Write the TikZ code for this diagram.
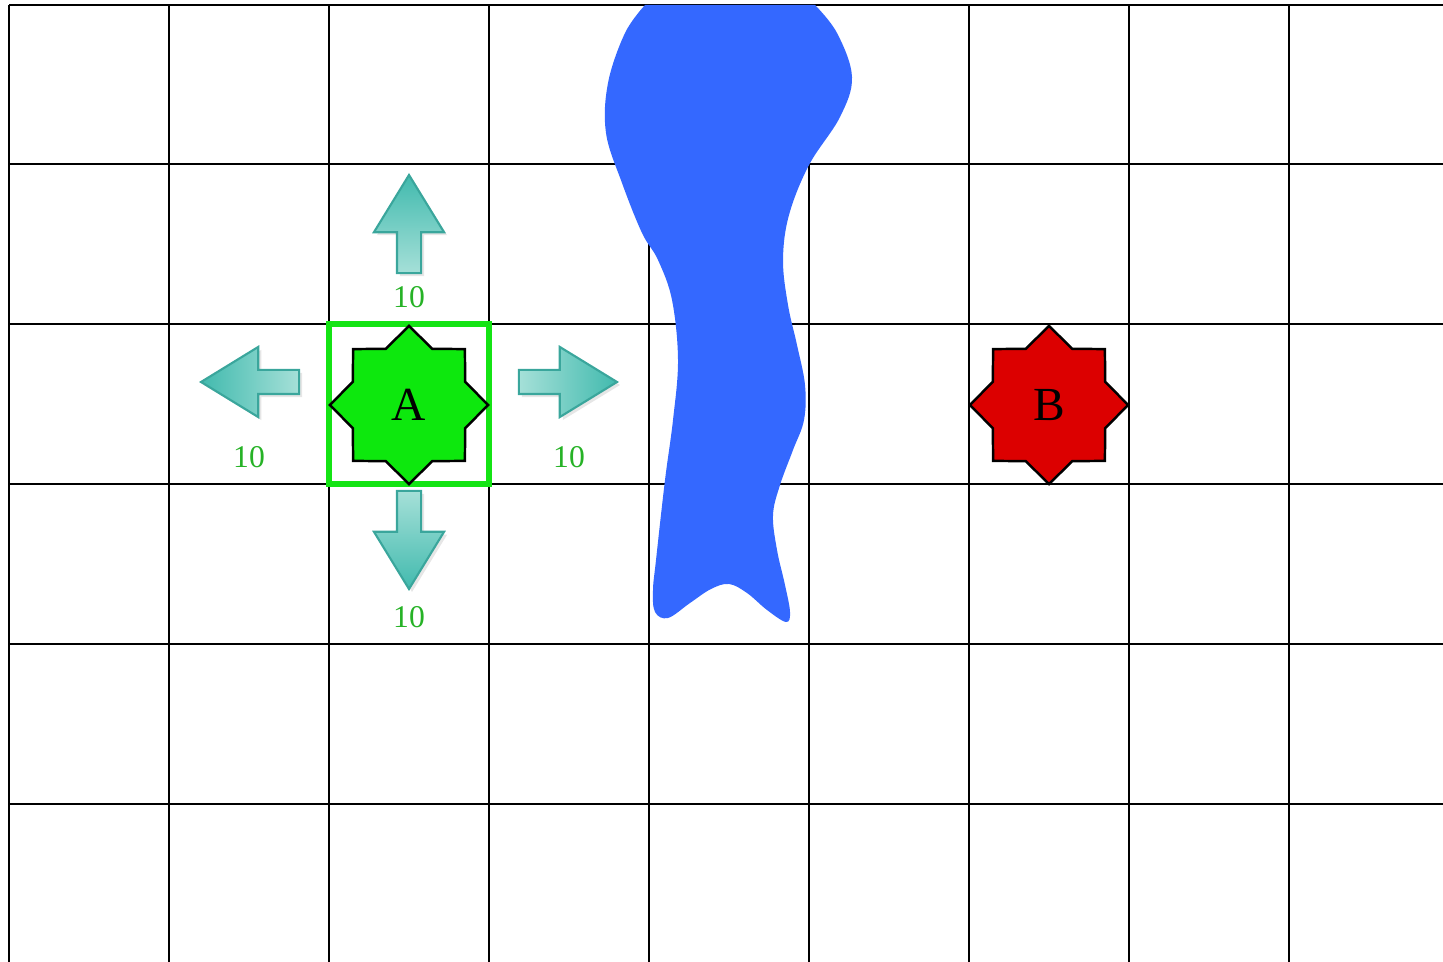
\documentclass[tikz,border=0pt]{standalone}
\usepackage{fontspec}
\setmainfont{Liberation Serif}
\usetikzlibrary{positioning,shapes.geometric,shapes.arrows,shadows}

\definecolor{cellgreen}{RGB}{13,232,13}
\definecolor{framegreen}{RGB}{20,228,20}
\definecolor{costgreen}{RGB}{38,178,38}
\definecolor{goalred}{RGB}{220,0,0}
\definecolor{river}{RGB}{52,104,255}
\definecolor{tealdark}{RGB}{66,186,174}
\definecolor{teallight}{RGB}{165,224,216}
\definecolor{tealline}{RGB}{58,166,156}

\begin{document}
\begin{tikzpicture}[
  x=0.01cm, y=-0.01cm,
  gridline/.style={line width=0.6pt},
  cell/.style={rectangle,draw,line width=0.6pt,minimum size=1.6cm,inner sep=0pt},
  current/.style={rectangle,draw=framegreen,line width=1.7pt,minimum size=1.6cm,inner sep=0pt},
  endpoint/.style={star,star points=8,star point ratio=1.3,draw,line width=0.7pt,minimum size=1.58cm,inner sep=0pt,font=\fontsize{13.5}{15}\selectfont},
  move/.style={single arrow,draw=tealline,line width=0.6pt,minimum height=0.98cm,single arrow head extend=0.23cm,single arrow tip angle=63,inner sep=0.11cm,anchor=tip,drop shadow={opacity=0.2,shadow xshift=0.03cm,shadow yshift=-0.03cm}},
  cost/.style={text=costgreen,font=\fontsize{9}{11}\selectfont,inner sep=0pt}
]
  \useasboundingbox (0,0) rectangle (1443,962);

  % grid
  \draw[gridline] (9,5) -- (9,962);
  \draw[gridline] (169,5) -- (169,962);
  \draw[gridline] (329,5) -- (329,962);
  \draw[gridline] (489,5) -- (489,962);
  \draw[gridline] (649,5) -- (649,962);
  \draw[gridline] (809,5) -- (809,962);
  \draw[gridline] (969,5) -- (969,962);
  \draw[gridline] (1129,5) -- (1129,962);
  \draw[gridline] (1289,5) -- (1289,962);
  \draw[gridline] (9,5) -- (1443,5);
  \draw[gridline] (9,164) -- (1443,164);
  \draw[gridline] (9,324) -- (1443,324);
  \draw[gridline] (9,484) -- (1443,484);
  \draw[gridline] (9,644) -- (1443,644);
  \draw[gridline] (9,804) -- (1443,804);

  % river
  \fill[river] plot[smooth,tension=0.6] coordinates {
    (815,5) (837,33) (852,77) (840,117) (809,165) (789,215) (783,260)
    (788,305) (797,345) (805,385) (804,420) (793,450) (780,485) (773,515)
    (777,550) (785,585) (790,612) (786,622) (767,610) (747,593) (729,584)
    (711,589) (690,603) (668,618) (655,612) (653,590) (656,560) (665,480)
    (673,420) (678,360) (672,300) (658,260) (642,233) (622,183) (606,133)
    (608,83) (625,33) (645,5)} -- cycle;

  % neighbour cells
  \node[cell] (upcell) at (409,244) {};
  \node[cell] (leftcell) at (249,404) {};
  \node[cell] (rightcell) at (569,404) {};
  \node[cell] (downcell) at (409,564) {};

  \node[move,shape border rotate=90,top color=tealdark,bottom color=teallight] (mvup) at (409,173) {};
  \node[move,shape border rotate=180,left color=tealdark,right color=teallight] (mvleft) at (199,382) {};
  \node[move,shape border rotate=0,left color=teallight,right color=tealdark] (mvright) at (619,382) {};
  \node[move,shape border rotate=270,top color=teallight,bottom color=tealdark] (mvdown) at (409,591) {};

  \node[cost] (cup) at (409,297) {10};
  \node[cost] (cleft) at (249,457) {10};
  \node[cost] (cright) at (569,457) {10};
  \node[cost] (cdown) at (409,617) {10};

  % start and goal
  \node[current] (curr) at (409,404) {};
  \node[endpoint,fill=cellgreen] (A) at (409,405) {A};
  \node[endpoint,fill=goalred] (B) at (1049,405) {B};
\end{tikzpicture}
\end{document}
